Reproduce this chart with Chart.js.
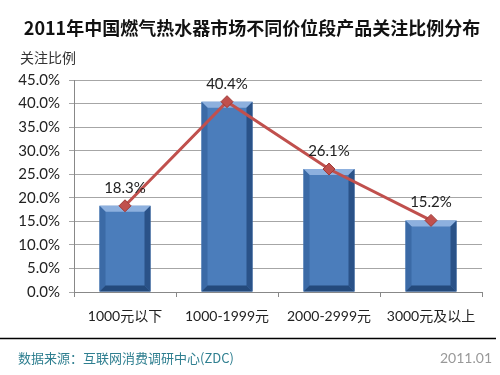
<!DOCTYPE html>
<html><head><meta charset="utf-8">
<script src="https://cdn.jsdelivr.net/npm/chart.js@4"></script>
<style>html,body{margin:0;padding:0;background:#fff}#w{width:500px;height:375px}</style>
</head><body><div id="w"><canvas id="c"></canvas></div>
<script>
const categories = ['1000元以下', '1000-1999元', '2000-2999元', '3000元及以上'];
const shares = [18.3, 40.4, 26.1, 15.2];
const yTicks = [0, 5, 10, 15, 20, 25, 30, 35, 40, 45];
const titleText = '2011年中国燃气热水器市场不同价位段产品关注比例分布';
const axisTitle = '关注比例';
const sourceText = '数据来源：互联网消费调研中心(ZDC)';
const dateText = '2011.01';

const CJK = '"Noto Sans CJK SC", sans-serif';
const LAT = 'Lato, "Noto Sans CJK SC", sans-serif';

const decor = {
  id: 'decor',
  afterDatasetDraw(chart, args) {
    if (args.index !== 0) return;
    const ctx = chart.ctx;
    const meta = chart.getDatasetMeta(0);
    meta.data.forEach(b => {
      const l = b.x - b.width / 2, r = b.x + b.width / 2, t = b.y, bt = b.base;
      const s = 6;
      ctx.save();
      ctx.fillStyle = '#8DB0DE';
      ctx.beginPath(); ctx.moveTo(l, t); ctx.lineTo(r, t); ctx.lineTo(r - s, t + s); ctx.lineTo(l + s, t + s); ctx.closePath(); ctx.fill();
      ctx.fillStyle = '#3B6AA6';
      ctx.beginPath(); ctx.moveTo(l, t); ctx.lineTo(l + s, t + s); ctx.lineTo(l + s, bt - s); ctx.lineTo(l, bt); ctx.closePath(); ctx.fill();
      ctx.fillStyle = '#2A5288';
      ctx.beginPath(); ctx.moveTo(r, t); ctx.lineTo(r - s, t + s); ctx.lineTo(r - s, bt - s); ctx.lineTo(r, bt); ctx.closePath(); ctx.fill();
      ctx.fillStyle = '#244A7C';
      ctx.beginPath(); ctx.moveTo(l, bt); ctx.lineTo(l + s, bt - s); ctx.lineTo(r - s, bt - s); ctx.lineTo(r, bt); ctx.closePath(); ctx.fill();
      ctx.restore();
    });
  },
  afterDraw(chart) {
    const ctx = chart.ctx;
    ctx.save();
    ctx.fillStyle = '#111';
    ctx.font = 'bold 18px ' + CJK;
    ctx.textAlign = 'center'; ctx.textBaseline = 'middle';
    ctx.fillText(titleText, 252, 28);
    ctx.fillStyle = '#333';
    ctx.font = '14px ' + CJK;
    ctx.textAlign = 'left';
    ctx.fillText(axisTitle, 20, 58);
    const meta = chart.getDatasetMeta(1);
    ctx.fillStyle = '#222';
    ctx.font = '15px ' + LAT;
    ctx.textAlign = 'center';
    meta.data.forEach((p, i) => {
      ctx.fillText(shares[i].toFixed(1) + '%', p.x, p.y - 18);
    });
    ctx.strokeStyle = '#000'; ctx.lineWidth = 1.5;
    ctx.beginPath(); ctx.moveTo(0, 338.5); ctx.lineTo(496, 338.5); ctx.stroke();
    ctx.fillStyle = '#2F7F90';
    ctx.font = '13px ' + CJK;
    ctx.textAlign = 'left';
    ctx.fillText(sourceText, 18, 358);
    ctx.fillStyle = '#999';
    ctx.font = '14px ' + LAT;
    ctx.textAlign = 'right';
    ctx.fillText(dateText, 492, 358);
    ctx.restore();
  }
};

new Chart(document.getElementById('c'), {
  data: {
    labels: categories,
    datasets: [
      { type: 'bar', data: shares, backgroundColor: '#4B7DBB', borderWidth: 0,
        barPercentage: 0.5, categoryPercentage: 1.0, order: 2 },
      { type: 'line', data: shares, borderColor: '#C0504D', borderWidth: 3,
        pointStyle: 'rectRot', pointRadius: 6, pointBackgroundColor: '#C0504D',
        pointBorderColor: '#9E3A37', pointBorderWidth: 1, tension: 0, order: 1 }
    ]
  },
  options: {
    responsive: true, maintainAspectRatio: false, animation: false,
    layout: { padding: { left: 0, right: 18, top: 80, bottom: 0 } },
    plugins: { legend: { display: false }, tooltip: { enabled: false } },
    scales: {
      x: {
        offset: true,
        grid: { display: true, drawOnChartArea: false, drawTicks: true, tickLength: 5, color: '#888', offset: true },
        border: { color: '#888' },
        ticks: { color: '#222', font: { size: 14, family: LAT }, padding: 11 },
        afterFit(s) { s.height = 83; }
      },
      y: {
        min: 0, max: 45,
        afterBuildTicks(s) { s.ticks = yTicks.map(v => ({ value: v })); },
        grid: { color: '#A6A6A6', tickLength: 5, drawTicks: true },
        border: { color: '#888' },
        ticks: { color: '#222', font: { size: 15, family: LAT }, padding: 9,
          callback: v => Number(v).toFixed(1) + '%' },
        afterFit(s) { s.width = 74; }
      }
    }
  },
  plugins: [decor]
});
</script></body></html>
